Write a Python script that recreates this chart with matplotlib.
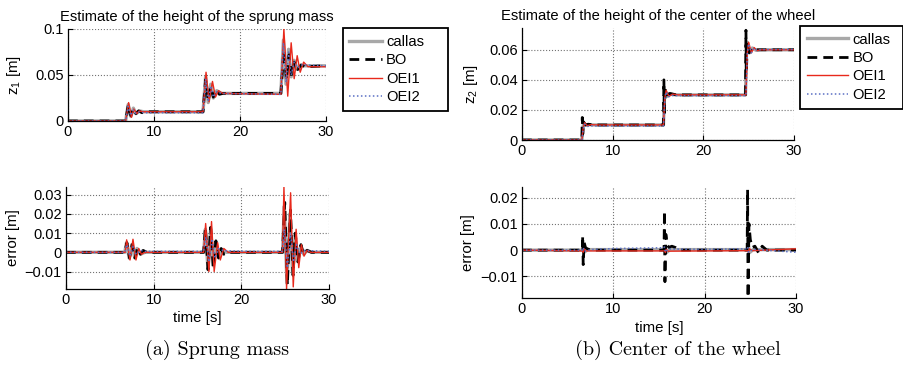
import matplotlib
matplotlib.use("Agg")
import matplotlib.pyplot as plt

plt.rcParams['font.family'] = ['Liberation Sans', 'DejaVu Sans']
plt.rcParams['axes.unicode_minus'] = True

# ---------------- data: sprung mass z1 ----------------
t_z1_callas = [0, 6.7, 7.0, 7.3, 7.6, 7.9, 8.3, 8.8, 15.7, 16.0, 16.3, 16.6, 16.9, 17.3, 17.8,
               24.75, 25.05, 25.35, 25.65, 25.95, 26.3, 26.7, 27.2, 30]
z1_callas = [0, 0, 0.018, 0.005, 0.014, 0.008, 0.011, 0.010, 0.010, 0.048, 0.020, 0.040, 0.025, 0.033, 0.030,
             0.030, 0.088, 0.040, 0.078, 0.048, 0.066, 0.056, 0.060, 0.060]

t_z1_bo = [0, 6.7, 7.0, 7.3, 7.6, 7.9, 8.2, 8.6, 9.2, 15.7, 16.0, 16.3, 16.6, 16.9, 17.2, 17.6, 18.0,
           24.75, 25.1, 25.4, 25.7, 26.0, 26.3, 26.7, 27.1, 27.6, 30]
z1_bo = [0, 0, 0.017, 0.006, 0.013, 0.008, 0.011, 0.009, 0.010, 0.010, 0.045, 0.022, 0.037, 0.026, 0.034, 0.029, 0.030,
         0.030, 0.077, 0.045, 0.072, 0.049, 0.064, 0.056, 0.061, 0.059, 0.060]

t_z1_oei1 = [0, 6.7, 7.05, 7.38, 7.65, 8.0, 8.3, 8.7, 15.7, 16.05, 16.4, 16.8, 17.15, 17.5, 18.0,
             24.75, 25.1, 25.55, 25.95, 26.3, 26.65, 27.0, 27.4, 27.9, 30]
z1_oei1 = [0, 0, 0.020, 0.004, 0.013, 0.008, 0.011, 0.010, 0.010, 0.053, 0.021, 0.043, 0.026, 0.033, 0.030,
           0.029, 0.100, 0.027, 0.085, 0.046, 0.071, 0.053, 0.064, 0.059, 0.059]

t_z1_oei2 = [0, 6.7, 7.0, 7.3, 7.6, 7.9, 8.3, 8.8, 15.7, 16.0, 16.3, 16.6, 16.9, 17.3, 17.8,
             24.75, 25.05, 25.35, 25.65, 25.95, 26.3, 26.7, 27.2, 30]
z1_oei2 = [0, 0, 0.016, 0.006, 0.012, 0.008, 0.010, 0.009, 0.009, 0.046, 0.021, 0.038, 0.026, 0.032, 0.030,
           0.029, 0.085, 0.042, 0.075, 0.050, 0.064, 0.058, 0.061, 0.060]

# ---------------- data: sprung mass error ----------------
t_e1_callas = [0, 6.7, 6.9, 7.2, 7.5, 7.8, 8.1, 8.5, 9.0, 15.7, 15.9, 16.2, 16.5, 16.8, 17.1, 17.4, 17.8, 18.3,
               24.7, 24.9, 25.2, 25.55, 25.85, 26.15, 26.45, 26.8, 27.1, 27.5, 28.0, 30]
e1_callas = [0, 0, 0.005, -0.003, 0.004, -0.002, 0.002, -0.001, 0, 0, 0.012, -0.009, 0.012, -0.007, 0.005, -0.002, 0.001, 0,
             0, 0.024, -0.016, 0.020, -0.011, 0.009, -0.004, 0.003, -0.001, 0.001, 0, 0]

t_e1_bo = [0, 6.7, 6.95, 7.25, 7.55, 7.85, 8.15, 8.5, 8.8, 9.2, 15.7, 15.9, 16.2, 16.5, 16.8, 17.1, 17.4, 17.7, 18.0, 18.4,
           24.7, 24.95, 25.25, 25.6, 25.9, 26.15, 26.45, 26.8, 27.1, 27.5, 28.0, 30]
e1_bo = [0, 0, 0.005, -0.003, 0.004, -0.003, 0.002, -0.001, 0.001, 0, 0, 0.013, -0.009, 0.013, -0.008, 0.006, -0.003, 0.002, -0.001, 0,
         0, 0.026, -0.017, 0.022, -0.012, 0.010, -0.005, 0.004, -0.001, 0.001, 0, 0]

t_e1_oei1 = [0, 6.75, 6.92, 7.3, 7.64, 7.98, 8.3, 8.6, 9.0, 15.7, 15.93, 16.3, 16.6, 16.9, 17.3, 17.6, 18.0, 18.5,
             24.7, 24.86, 25.16, 25.62, 25.92, 26.25, 26.55, 26.85, 27.15, 27.5, 27.9, 30]
e1_oei1 = [0, 0, 0.0065, -0.004, 0.0068, -0.004, 0.002, -0.001, 0, 0, 0.015, -0.010, 0.016, -0.010, 0.005, -0.004, 0.002, 0,
           0, 0.034, -0.019, 0.031, -0.018, 0.012, -0.008, 0.004, -0.002, 0.001, 0, 0]

t_e1_oei2 = [0, 6.7, 6.95, 7.3, 7.65, 8.0, 8.5, 9.0, 12.0, 15.7, 15.95, 16.3, 16.65, 17.0, 17.4, 18.0, 21.0,
             24.7, 24.9, 25.25, 25.6, 25.95, 26.3, 26.7, 27.2, 28.0, 30]
e1_oei2 = [0, 0, 0.004, -0.002, 0.003, -0.001, 0.001, 0.0005, 0.0005, 0.0005, 0.008, -0.005, 0.007, -0.003, 0.002, 0.0008, 0.0005,
           0.0005, 0.012, -0.008, 0.010, -0.005, 0.004, -0.001, 0.001, 0.0008, 0.0005]

# ---------------- data: wheel centre z2 ----------------
t_z2_callas = [0, 6.6, 6.7, 6.8, 7.0, 7.3, 8.0, 15.6, 15.7, 15.8, 16.0, 16.4, 17.0,
               24.65, 24.75, 24.85, 25.1, 25.4, 25.8, 26.3, 30]
z2_callas = [0, 0, 0.007, 0.011, 0.0098, 0.0102, 0.010, 0.010, 0.027, 0.033, 0.029, 0.0305, 0.030,
             0.030, 0.056, 0.065, 0.058, 0.0612, 0.0597, 0.060, 0.060]

t_z2_bo = [0, 6.6, 6.65, 6.7, 6.8, 7.0, 7.3, 8.0, 15.6, 15.65, 15.7, 15.8, 16.0, 16.3, 17.0,
           24.65, 24.7, 24.75, 24.85, 25.05, 25.3, 25.6, 26.0, 30]
z2_bo = [0, 0, 0.015, 0.004, 0.012, 0.010, 0.0105, 0.010, 0.010, 0.040, 0.018, 0.034, 0.030, 0.031, 0.030,
         0.030, 0.073, 0.045, 0.065, 0.058, 0.061, 0.060, 0.060, 0.060]

t_z2_oei1 = [0, 6.6, 6.75, 6.9, 7.2, 7.6, 8.2, 15.6, 15.75, 15.9, 16.2, 16.6, 17.2,
             24.7, 24.85, 25.0, 25.3, 25.6, 25.9, 26.4, 30]
z2_oei1 = [0, 0, 0.008, 0.0115, 0.0095, 0.0102, 0.010, 0.010, 0.028, 0.033, 0.029, 0.0305, 0.030,
           0.030, 0.058, 0.065, 0.058, 0.0615, 0.0595, 0.060, 0.060]

t_z2_oei2 = [0, 6.6, 6.75, 6.9, 7.2, 7.6, 8.2, 15.6, 15.75, 15.9, 16.2, 16.6, 17.2,
             24.7, 24.85, 25.0, 25.3, 25.6, 25.9, 26.4, 30]
z2_oei2 = [0, 0, 0.007, 0.0105, 0.009, 0.0094, 0.0093, 0.0093, 0.027, 0.032, 0.0288, 0.0296, 0.0295,
           0.0295, 0.057, 0.064, 0.058, 0.0612, 0.0598, 0.0602, 0.0602]

# ---------------- data: wheel centre error ----------------
t_e2_callas = [0, 6.6, 6.7, 6.8, 7.2, 15.6, 15.7, 15.8, 16.2, 24.7, 24.8, 24.9, 25.3, 30]
e2_callas = [0, 0, 0.001, -0.0008, 0.0002, 0.0002, 0.0012, -0.001, 0.0002, 0.0002, 0.0015, -0.001, 0.0002, 0.0002]

t_e2_bo = [0, 6.6, 6.65, 6.7, 6.8, 6.95, 7.15, 7.4, 8.0, 15.55, 15.6, 15.65, 15.75, 15.9, 16.1, 16.4, 16.8, 17.2,
           24.65, 24.7, 24.75, 24.85, 25.0, 25.2, 25.5, 25.9, 26.3, 26.8, 27.3, 30]
e2_bo = [0, 0, 0.0055, -0.0055, 0.003, 0.001, 0.0005, 0.0002, 0, 0, 0.015, -0.012, 0.006, 0.002, 0.001, 0.0015, 0.001, 0,
         0, 0.023, -0.018, 0.010, 0.004, 0.001, 0.0015, -0.001, 0.0015, 0, 0, 0]

t_e2_oei1 = [0, 6.6, 6.7, 6.8, 7.0, 15.6, 15.7, 15.8, 16.0, 24.7, 24.8, 24.9, 25.2, 30]
e2_oei1 = [0, -0.0003, -0.0008, 0.0005, -0.0003, -0.0003, -0.0009, 0.0003, -0.0004, -0.0002, -0.0008, 0.0005, -0.0002, 0.0005]

t_e2_oei2 = [0, 6.6, 6.7, 6.8, 7.5, 10, 15.5, 15.6, 15.7, 16, 20, 24.6, 24.7, 24.8, 25.3, 30]
e2_oei2 = [0, 0, 0.001, -0.0005, 0.0002, 0.0006, 0.0009, 0.0012, -0.0008, 0.0004, 0.0003, 0.0005, 0.0012, -0.0008, 0.0003, -0.0008]

# ---------------- labels ----------------
series_names = ['callas', 'BO', 'OEI1', 'OEI2']
x_ticks = [0, 10, 20, 30]
x_ticklabels = ['0', '10', '20', '30']
yt_z1 = [0, 0.05, 0.1]
yl_z1 = ['0', '0.05', '0.1']
yt_e1 = [-0.01, 0, 0.01, 0.02, 0.03]
yl_e1 = ['\u22120.01', '0', '0.01', '0.02', '0.03']
yt_z2 = [0, 0.02, 0.04, 0.06]
yl_z2 = ['0', '0.02', '0.04', '0.06']
yt_e2 = [-0.01, 0, 0.01, 0.02]
yl_e2 = ['\u22120.01', '0', '0.01', '0.02']

styles = [
    dict(color='#a8a8a8', lw=2.4, ls='-'),
    dict(color='black', lw=2.0, ls=(0, (3.5, 2.2))),
    dict(color='#e8291c', lw=1.0, ls='-'),
    dict(color='#5a6fc4', lw=1.1, ls=(0, (1, 1.6))),
]

W, H = 904, 373
fig = plt.figure(figsize=(W / 100, H / 100), dpi=100)


def px_axes(x0, x1, ytop, ybot):
    return fig.add_axes([x0 / W, 1 - ybot / H, (x1 - x0) / W, (ybot - ytop) / H])


def style_axes(ax, yt, yl, ylim):
    ax.set_xlim(0, 30)
    ax.set_ylim(*ylim)
    ax.set_xticks(x_ticks)
    ax.set_xticklabels(x_ticklabels)
    ax.set_yticks(yt)
    ax.set_yticklabels(yl)
    ax.tick_params(direction='in', length=3.5, width=0.8, labelsize=10.5, pad=3)
    ax.grid(True, ls=':', color='0.45', lw=0.8)
    for s in ['top', 'right']:
        ax.spines[s].set_visible(False)
    for s in ['left', 'bottom']:
        ax.spines[s].set_linewidth(0.9)


def draw(ax, data):
    lines = []
    for (t, v), st in zip(data, styles):
        ln, = ax.plot(t, v, **st)
        lines.append(ln)
    return lines


ax_tl = px_axes(68, 326, 29, 121)
ax_bl = px_axes(66, 329, 187, 289)
ax_tr = px_axes(522, 794, 28, 140)
ax_br = px_axes(522, 796, 187, 298)

lines_tl = draw(ax_tl, [(t_z1_callas, z1_callas), (t_z1_bo, z1_bo), (t_z1_oei1, z1_oei1), (t_z1_oei2, z1_oei2)])
draw(ax_bl, [(t_e1_callas, e1_callas), (t_e1_bo, e1_bo), (t_e1_oei1, e1_oei1), (t_e1_oei2, e1_oei2)])
lines_tr = draw(ax_tr, [(t_z2_callas, z2_callas), (t_z2_bo, z2_bo), (t_z2_oei1, z2_oei1), (t_z2_oei2, z2_oei2)])
draw(ax_br, [(t_e2_callas, e2_callas), (t_e2_bo, e2_bo), (t_e2_oei1, e2_oei1), (t_e2_oei2, e2_oei2)])

style_axes(ax_tl, yt_z1, yl_z1, (0, 0.1))
style_axes(ax_bl, yt_e1, yl_e1, (-0.0191, 0.034))
style_axes(ax_tr, yt_z2, yl_z2, (0, 0.0745))
style_axes(ax_br, yt_e2, yl_e2, (-0.0182, 0.024))

ax_tl.set_title('Estimate of the height of the sprung mass', fontsize=10.6, pad=6)
ax_tr.set_title('Estimate of the height of the center of the wheel', fontsize=10.6, pad=6)

ax_tl.set_ylabel(r'$\mathregular{z_1}$ [m]', fontsize=10.8)
ax_tr.set_ylabel(r'$\mathregular{z_2}$ [m]', fontsize=10.8)
ax_bl.set_ylabel('error [m]', fontsize=10.8)
ax_br.set_ylabel('error [m]', fontsize=10.8)
ax_tl.yaxis.set_label_coords(-0.175, 0.5)
ax_bl.yaxis.set_label_coords(-0.175, 0.5)
ax_tr.yaxis.set_label_coords(-0.155, 0.5)
ax_br.yaxis.set_label_coords(-0.172, 0.5)

ax_bl.set_xlabel('time [s]', fontsize=10.8)
ax_br.set_xlabel('time [s]', fontsize=10.8)
ax_bl.xaxis.set_label_coords(0.5, -0.22)
ax_br.xaxis.set_label_coords(0.5, -0.21)


def add_legend(ax, lines, x0, x1, ytop, ybot, hl):
    leg = ax.legend(lines, series_names, loc='upper left', mode='expand',
                    bbox_to_anchor=(x0 / W, 1 - ybot / H, (x1 - x0) / W, (ybot - ytop) / H),
                    bbox_transform=fig.transFigure, borderaxespad=0, fontsize=10.6,
                    handlelength=hl, handletextpad=0.3, labelspacing=0.3, borderpad=0.45,
                    fancybox=False, framealpha=1, edgecolor='black')
    leg.get_frame().set_linewidth(1.3)
    return leg


add_legend(ax_tl, lines_tl, 342.7, 448, 28.3, 111.7, 2.2)
add_legend(ax_tr, lines_tr, 800, 903, 26, 108, 2.8)

fig.text(217 / W, 1 - 350 / H, '(a) Sprung mass', family='cmr10', fontsize=14.5, ha='center', va='center')
fig.text(678 / W, 1 - 350 / H, '(b) Center of the wheel', family='cmr10', fontsize=14.5, ha='center', va='center')

fig.savefig('out.png', dpi=100)
